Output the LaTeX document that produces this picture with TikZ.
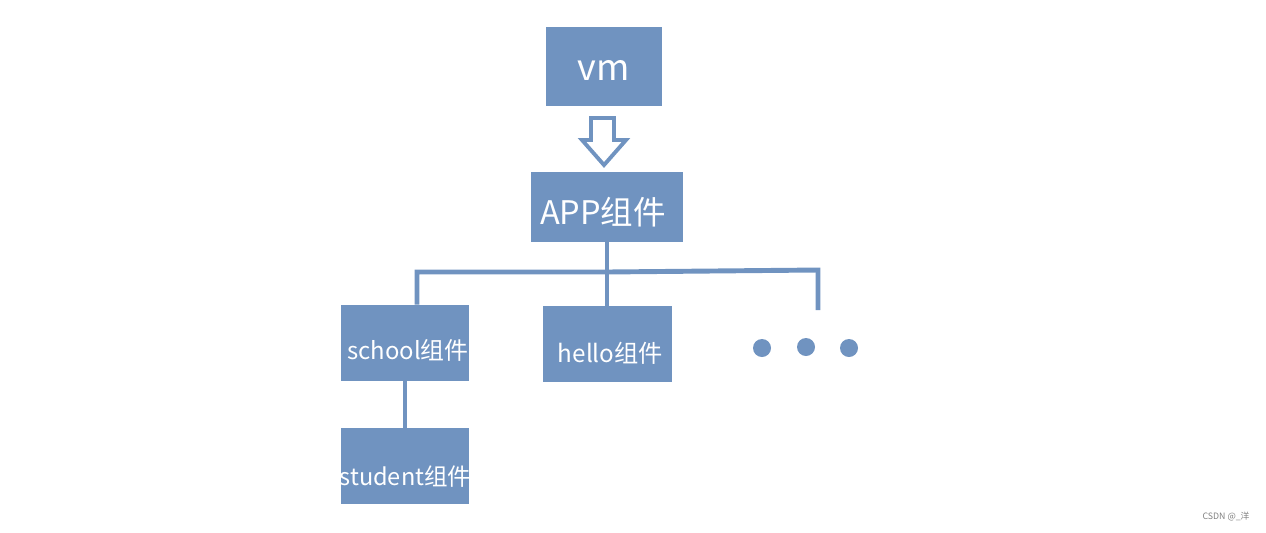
\documentclass[tikz,border=0pt]{standalone}
\usepackage{fontspec}
\newfontfamily\cjk{Noto Sans CJK SC}
\usetikzlibrary{positioning}
\definecolor{boxblue}{RGB}{112,147,192}
\tikzset{
	comp/.style={fill=boxblue, inner sep=0pt},
	caption/.style={text=white, inner sep=0pt, font=\cjk\fontsize{#1}{#1}\selectfont},
	link/.style={draw=boxblue, line width=2.8pt},
	dot/.style={circle, fill=boxblue, minimum size=0.36cm, inner sep=0pt}
}
\begin{document}
\begin{tikzpicture}[x=0.02cm, y=-0.02cm]
		\useasboundingbox (0,0) rectangle (1266,532);
		% boxes
		\node[comp, minimum width=2.32cm, minimum height=1.58cm, label={[caption=20.5, shift={(0,4)}]center:vm}] (vm) at (604,66) {};
		\node[comp, minimum width=3.04cm, minimum height=1.4cm, label={[caption=18.5, shift={(-4,5)}]center:APP组件}] (app) at (607,207) {};
		\node[comp, minimum width=2.58cm, minimum height=1.52cm, label={[caption=13.6, shift={(3,7)}]center:school组件}] (school) at (405,343) {};
		\node[comp, minimum width=2.58cm, minimum height=1.52cm, label={[caption=13.8, shift={(3.5,9)}]center:hello组件}] (hello) at (607,344) {};
		\node[comp, minimum width=2.58cm, minimum height=1.52cm, label={[caption=13.4, shift={(0.5,11)}]center:student组件}] (student) at (405,466) {};
		\node[dot] (d1) at (762,348) {};
		\node[dot] (d2) at (806,347) {};
		\node[dot] (d3) at (849,348) {};
		% hollow arrow
		\draw[boxblue, line width=2.2pt, line join=miter] (591,118) -- (614,118) -- (614,140) -- (626,140) -- (604,165) -- (582,140) -- (591,140) -- cycle;
		% tree
		\coordinate (jl) at (417,272);
		\coordinate (jr) at (818,270);
		\coordinate (rend) at (818,310);
		\draw[link] (app.south) -- (hello.north);
		\draw[link] (jl |- school.north) -- (jl) -- (jl -| app) -- (jr) -- (rend);
		\draw[link] (school.south) -- (student.north);
		\node[text=gray, font=\cjk\fontsize{5}{6}\selectfont] (mark) at (1226,517) {CSDN @\_洋};
	\end{tikzpicture}
\end{document}
